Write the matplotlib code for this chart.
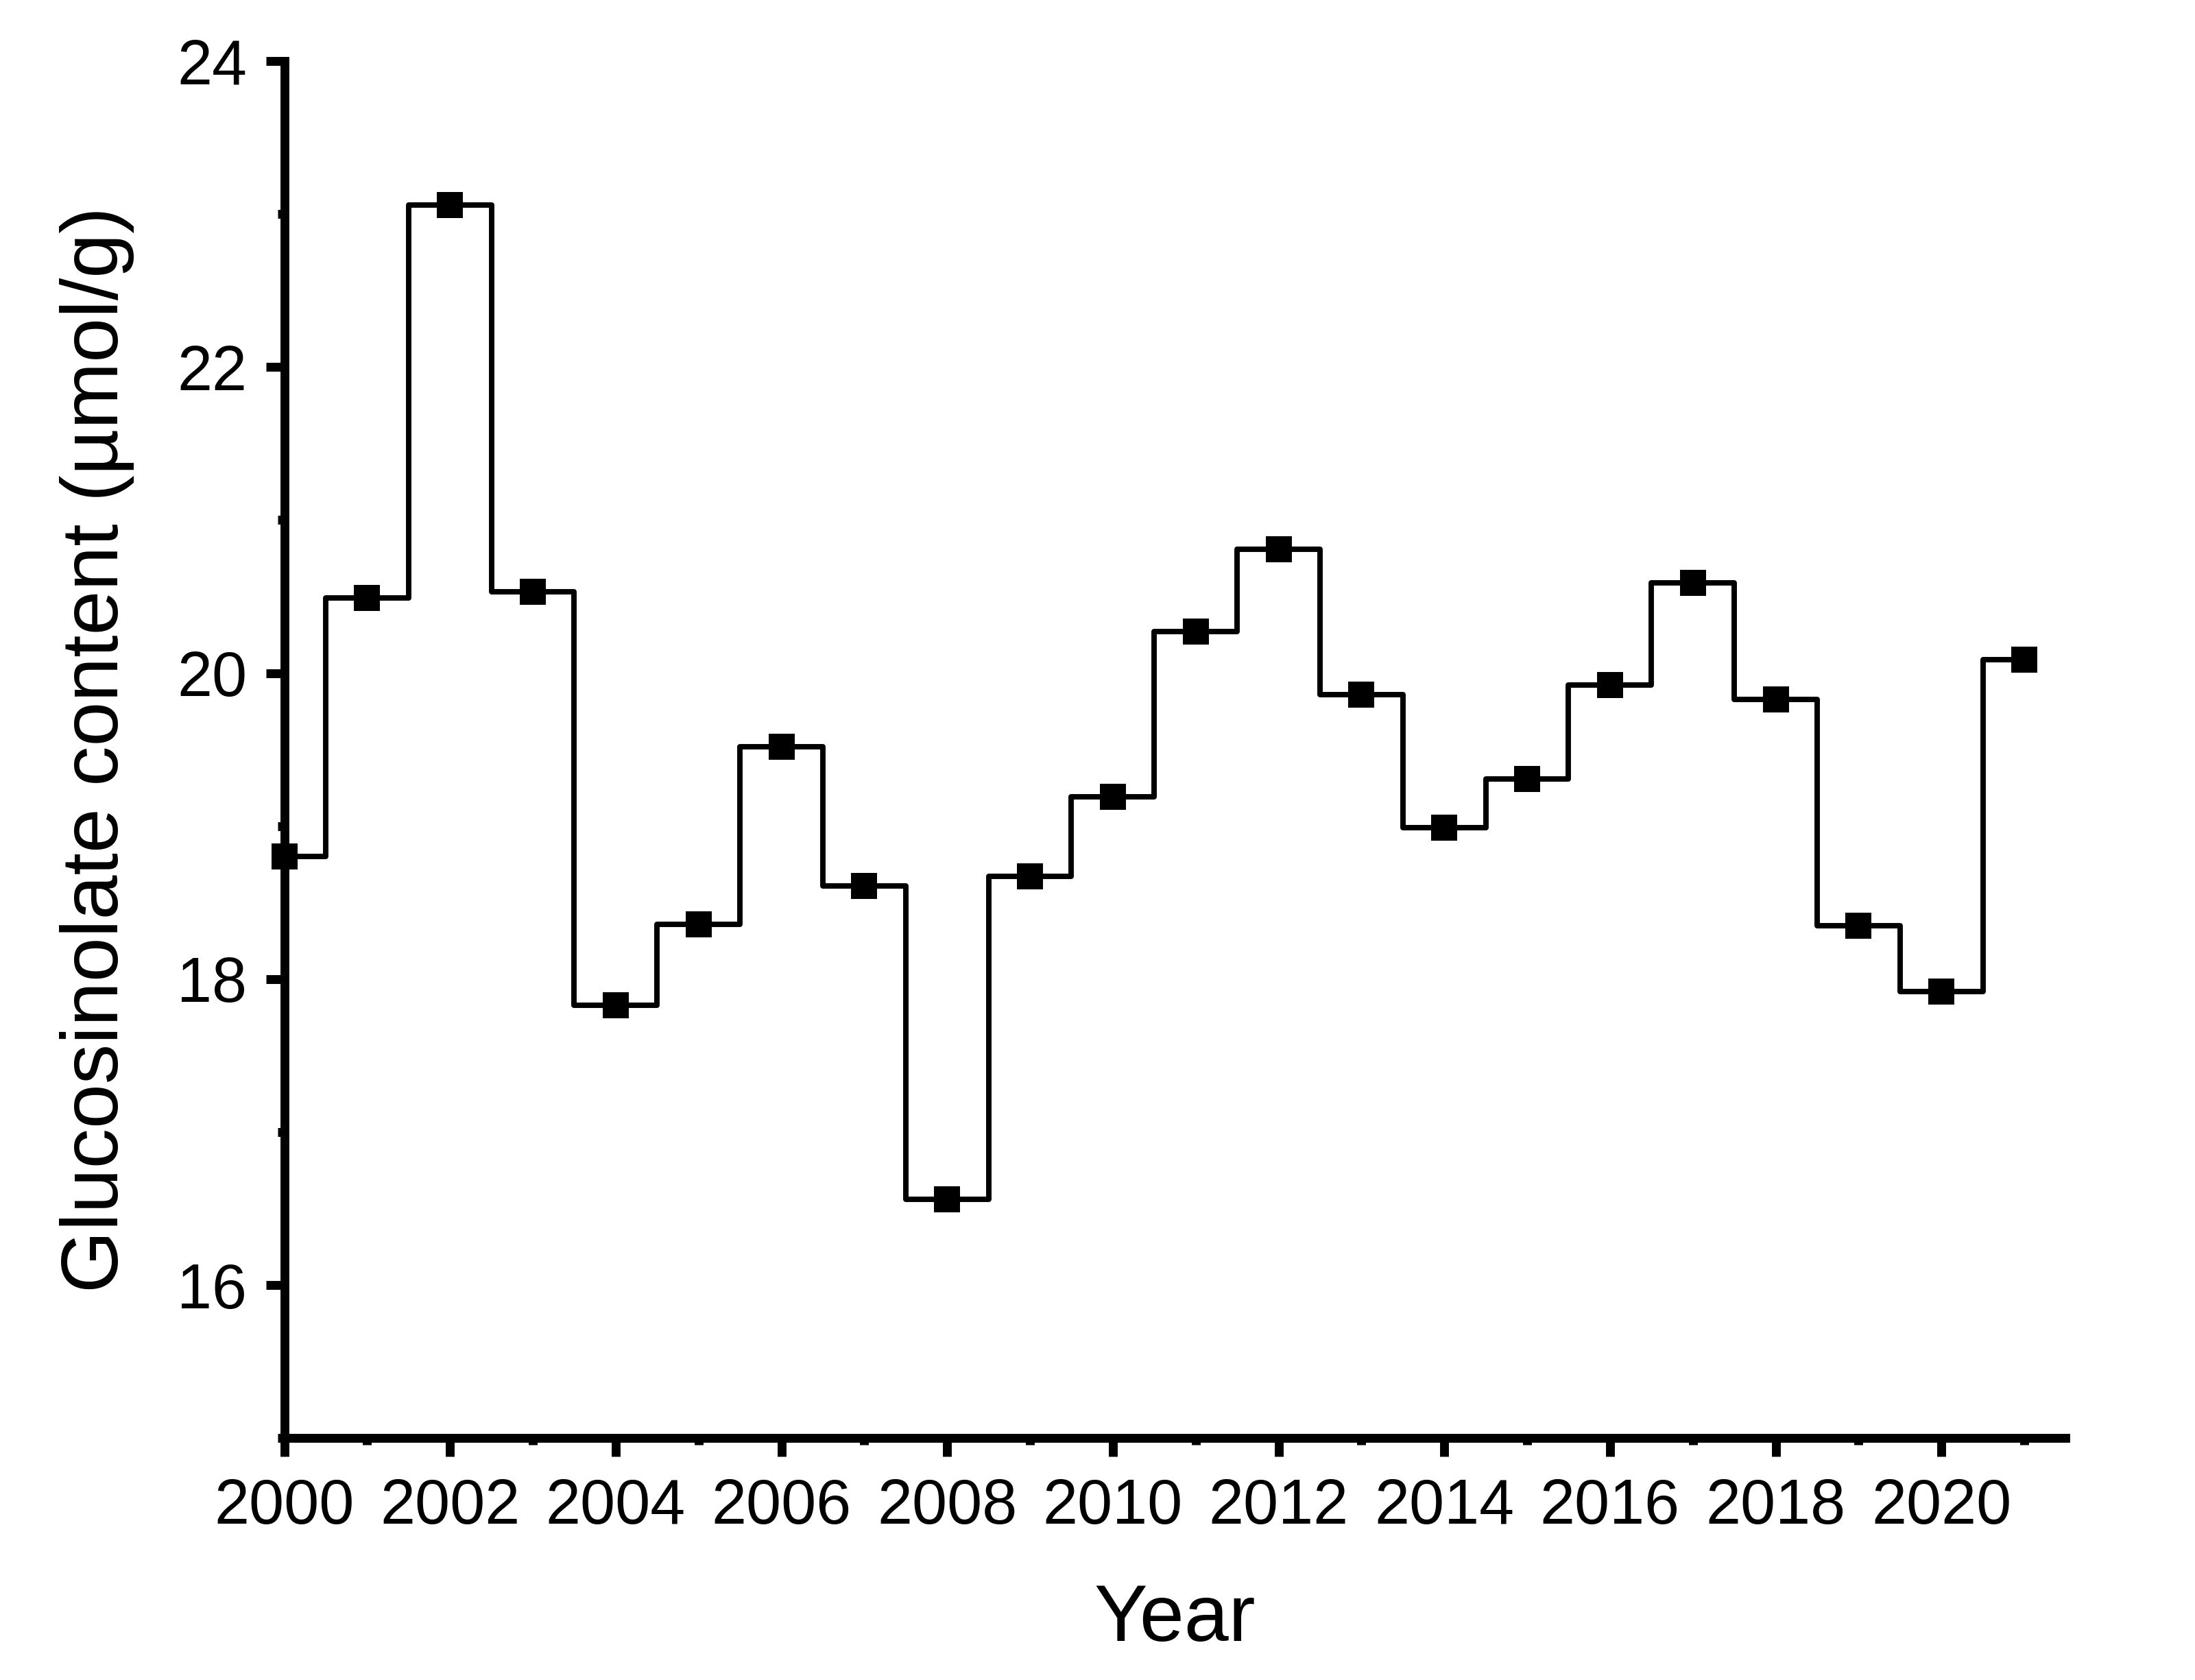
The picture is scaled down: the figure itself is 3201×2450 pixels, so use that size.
import matplotlib
matplotlib.use("Agg")
import matplotlib.pyplot as plt
from matplotlib.ticker import MultipleLocator

years = list(range(2000, 2022))
values = [18.80, 20.49, 23.06, 20.53, 17.83, 18.36, 19.52, 18.61, 16.56, 18.67,
          19.19, 20.27, 20.81, 19.86, 18.99, 19.31, 19.92, 20.59, 19.83, 18.35,
          17.92, 20.09]
x_ticks = list(range(2000, 2021, 2))
y_ticks = [16, 18, 20, 22, 24]

plt.rcParams['font.family'] = ['Liberation Sans', 'DejaVu Sans']

fig = plt.figure(figsize=(3201/300, 2450/300), dpi=300)
ax = fig.add_axes([0.1295, 0.1439, 0.8116, 0.8198])

ax.step(years, values, where='mid', color='black', lw=1.9, zorder=2,
        solid_joinstyle='round')
ax.plot(years, values, 's', color='black', ms=9, mew=0, zorder=3, clip_on=False)

ax.set_xlim(2000, 2021.5)
ax.set_ylim(15, 24)
ax.set_xticks(x_ticks)
ax.set_yticks(y_ticks)
ax.xaxis.set_minor_locator(MultipleLocator(1))
ax.yaxis.set_minor_locator(MultipleLocator(1))

for s in ['top', 'right']:
    ax.spines[s].set_visible(False)
for s in ['left', 'bottom']:
    ax.spines[s].set_linewidth(3.1)
    ax.spines[s].set_capstyle('projecting')

ax.tick_params(which='major', direction='out', length=6.5, width=3.1, labelsize=22)
ax.tick_params(axis='x', which='major', pad=7.4)
ax.tick_params(axis='y', which='major', pad=6.5)
ax.tick_params(which='minor', direction='out', length=2.4, width=3.1)

ax.set_xlabel('Year', fontsize=28, labelpad=16)
ax.set_ylabel('Glucosinolate content (µmol/g)', fontsize=28, labelpad=15)

fig.savefig('out.png', dpi=300)
